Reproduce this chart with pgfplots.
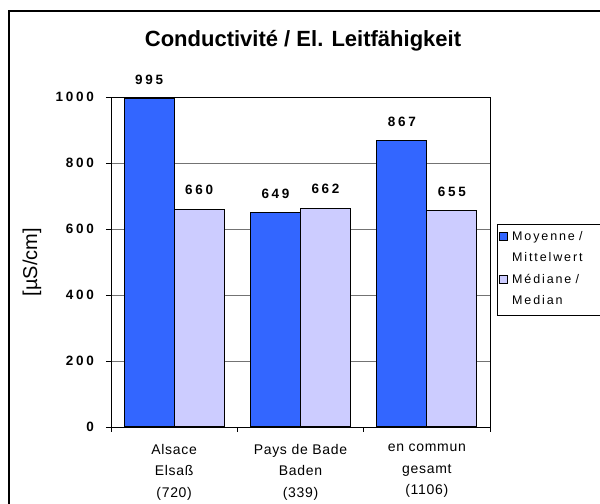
\documentclass[border=0pt]{standalone}
\usepackage{pgfplots}
\pgfplotsset{compat=1.18}
\usepackage{fontspec}
\setmainfont{Liberation Sans}
\newfontfamily\tickfont[LetterSpace=20]{Liberation Sans}
\newfontfamily\catfont[LetterSpace=5]{Liberation Sans}
\newfontfamily\legfont[LetterSpace=15]{Liberation Sans}
\definecolor{moy}{HTML}{3366FF}
\definecolor{med}{HTML}{CCCCFF}
\begin{document}
\begin{tikzpicture}
\path[use as bounding box] (0,0) rectangle (600bp,504bp);
\begin{scope}
\clip (0,0) rectangle (600bp,504bp);
\draw[line width=2.2bp] (9bp,-20bp) rectangle (640bp,493bp);
\end{scope}
\begin{axis}[
  at={(111bp,77bp)}, anchor=south west,
  scale only axis, width=379bp, height=330bp,
  xmin=-0.5, xmax=2.5, ymin=0, ymax=1000,
  ybar=0pt, bar width=50bp,
  xtick={0,1,2},
  xticklabels={{Alsace\\Elsaß\\(720)},{Pays de Bade\\Baden\\(339)},{en commun\\gesamt\\(1106)}},
  xticklabel style={align=center, font=\catfont\fontsize{14bp}{21.5bp}\selectfont, anchor=north, inner sep=0pt, yshift=-12bp},
  major x tick style={draw=none},
  minor xtick={-0.5,0.5,1.5,2.5},
  ytick={0,200,400,600,800,1000},
  tick align=outside, tick pos=left,
  major tick length=5bp, minor tick length=5bp,
  tick style={black, line width=0.8bp},
  ymajorgrids, grid style={black!55, line width=0.8bp},
  axis line style={line width=0.9bp},
  yticklabel style={font=\tickfont\bfseries\fontsize{13.5bp}{15bp}\selectfont, anchor=east, inner sep=0pt, xshift=-12bp},
  /pgf/number format/assume math mode=true,
  /pgf/number format/1000 sep={},
  ylabel={[µS/cm]},
  ylabel style={font=\fontsize{20bp}{24bp}\selectfont, at={(axis description cs:-0.2084,0.5)}, anchor=center},
  title={Conductivité / El. Leitfähigkeit},
  title style={font=\bfseries\fontsize{22bp}{26bp}\selectfont, at={(axis description cs:0.5,1)}, anchor=center, yshift=50bp, xshift=2.5bp},
  nodes near coords,
  nodes near coords style={font=\tickfont\bfseries\fontsize{13.5bp}{15bp}\selectfont, anchor=south, inner sep=0pt, yshift=14bp},
  legend style={at={(axis description cs:1.0185,0.615)}, anchor=north west, draw=black, line width=0.8bp,
    font=\legfont\fontsize{12.5bp}{14bp}\selectfont, row sep=9.5bp, column sep=4bp,
    inner xsep=2bp, inner ysep=7bp, cells={anchor=west},
    nodes={inner sep=0pt, text height=9bp, text depth=3bp, text width=95bp, align=left}},
]
\addplot[fill=moy, draw=black, line width=1bp,
  legend image code/.code={\draw[fill=moy, draw=black, line width=0.8bp] (0bp,-3bp) rectangle (8bp,5bp);}]
  coordinates {(0,995) (1,649) (2,867)};
\addlegendentry{Moyenne /}
\addlegendimage{empty legend}
\addlegendentry{Mittelwert}
\addplot[fill=med, draw=black, line width=1bp,
  legend image code/.code={\draw[fill=med, draw=black, line width=0.8bp] (0bp,-3bp) rectangle (8bp,5bp);}]
  coordinates {(0,660) (1,662) (2,655)};
\addlegendentry{Médiane /}
\addlegendimage{empty legend}
\addlegendentry{Median}
\end{axis}
\end{tikzpicture}
\end{document}
